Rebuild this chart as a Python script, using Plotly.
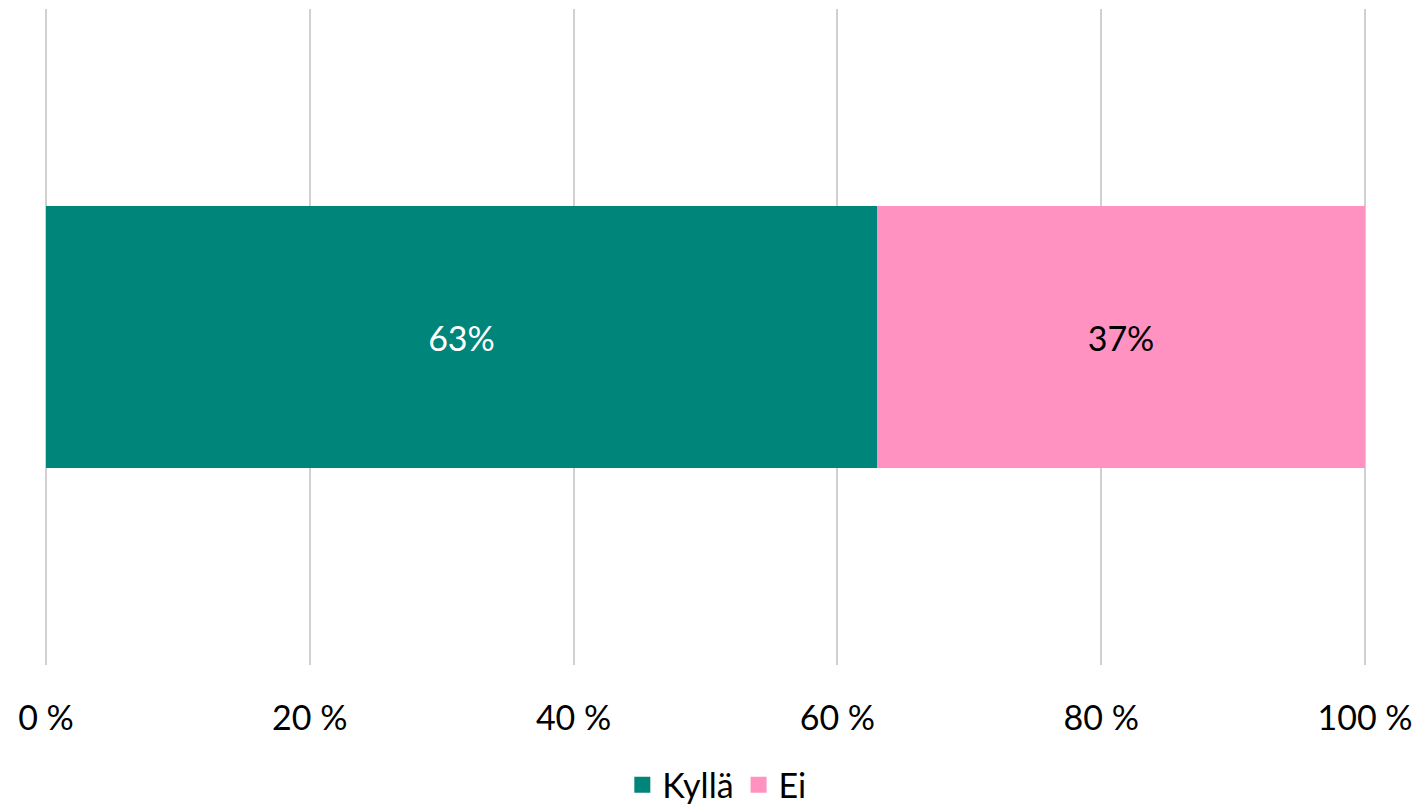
import plotly.graph_objects as go

category = [""]
series_names = ["Kyllä", "Ei"]
series_colors = ["#00857A", "#FF92C1"]
kylla = [63]
ei = [37]
tick_vals = [0, 20, 40, 60, 80, 100]
tick_text = ["0 %", "20 %", "40 %", "60 %", "80 %", "100 %"]

font_name = "Lato"

fig = go.Figure()

fig.add_trace(go.Bar(
    y=category, x=kylla, name=series_names[0], orientation="h",
    marker=dict(color=series_colors[0], line=dict(width=0)),
    text=[f"{v}%" for v in kylla], textposition="inside",
    insidetextanchor="middle", showlegend=False,
    textfont=dict(color="white", size=34, family=font_name)))

fig.add_trace(go.Bar(
    y=category, x=ei, name=series_names[1], orientation="h",
    marker=dict(color=series_colors[1], line=dict(width=0)),
    text=[f"{v}%" for v in ei], textposition="inside",
    insidetextanchor="middle", showlegend=False,
    textfont=dict(color="black", size=34, family=font_name)))

# legend entries with bigger square symbols
for name, col in zip(series_names, series_colors):
    fig.add_trace(go.Scatter(
        x=[None], y=[None], mode="markers", name=name,
        marker=dict(symbol="square", size=21, color=col)))

# page body has an 8px margin, so the figure is shifted by 8px
fig.update_layout(
    barmode="stack",
    bargap=0.6,
    width=1412, height=797,
    margin=dict(l=36, r=53, t=1, b=140),
    paper_bgcolor="white", plot_bgcolor="white",
    font=dict(family=font_name, size=34, color="black"),
    showlegend=True,
    legend=dict(orientation="h", x=0.502, xanchor="center", xref="container",
                y=0.025, yanchor="middle", yref="container",
                font=dict(size=34), traceorder="normal",
                itemwidth=30),
    uniformtext=dict(mode="show", minsize=10),
)

fig.update_xaxes(range=[-0.15, 100.15], tickvals=tick_vals, ticktext=tick_text,
                 showgrid=True, gridcolor="#D0D0D0", gridwidth=2,
                 zeroline=False, showline=False, ticks="",
                 ticklabelstandoff=30, automargin=False)
fig.update_yaxes(showticklabels=False, showgrid=False, zeroline=False,
                 showline=False, automargin=False)

fig.write_html("out.html")
